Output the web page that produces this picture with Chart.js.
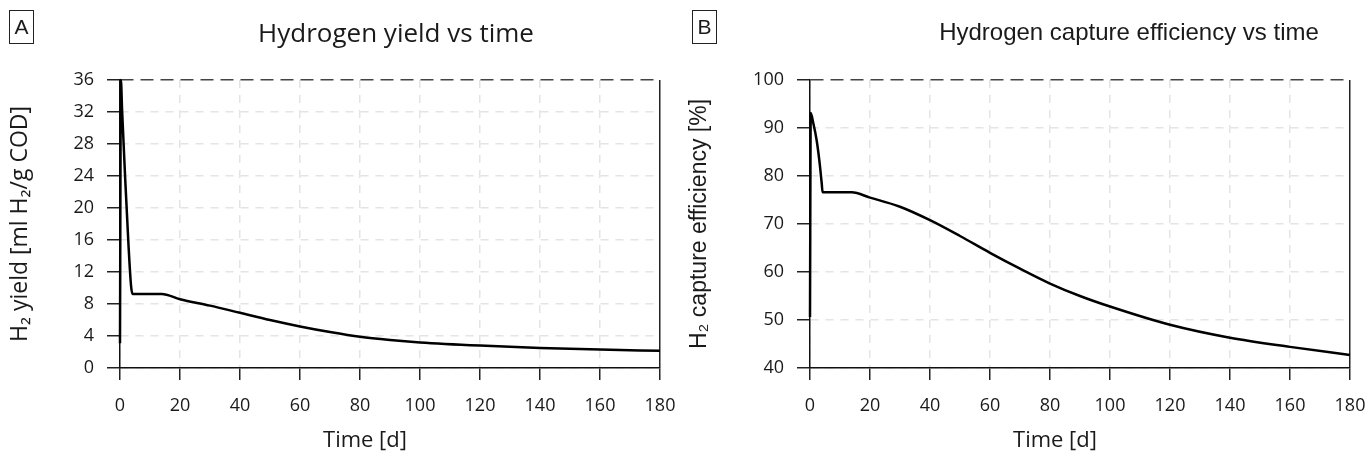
<!DOCTYPE html>
<html>
<head>
<meta charset="utf-8">
<script src="https://cdn.jsdelivr.net/npm/chart.js@4.4.1/dist/chart.umd.min.js"></script>
<style>
    body { margin: 0; background: #fff; }
    #wrap { position: relative; width: 1371px; height: 468px; overflow: hidden; font-family: "Open Sans", sans-serif; color: #1a1a1a; }
    .pane { position: absolute; top: 0; height: 468px; }
    .tag { position: absolute; top: 10px; width: 23px; height: 32px; border: 1px solid #222; font-family: "Liberation Sans", Arial, sans-serif; font-size: 21px; line-height: 32px; text-align: center; }
    .ttl { position: absolute; top: 15px; line-height: 34px; white-space: nowrap; transform: translateX(-50%); }
    .xt { position: absolute; top: 423px; font-size: 22px; line-height: 30px; white-space: nowrap; transform: translateX(-50%); }
</style>
</head>
<body>
<div id="wrap">
    <div class="pane" style="left:0;width:685px"><canvas id="yieldChart" width="685" height="468"></canvas></div>
    <div class="pane" style="left:685px;width:686px"><canvas id="captureChart" width="686" height="468"></canvas></div>
    <div class="tag" style="left:9px">A</div>
    <div class="tag" style="left:692px">B</div>
    <div class="ttl" style="left:396px;font-size:26px">Hydrogen yield vs time</div>
    <div class="ttl" style="left:1129px;font-size:24px;font-family:'Liberation Sans',Arial,sans-serif">Hydrogen capture efficiency vs time</div>
    <div class="xt" style="left:365px">Time [d]</div>
    <div class="xt" style="left:1055px">Time [d]</div>
</div>
<script>
// time axis ticks (days)
const timeTicks = [0, 20, 40, 60, 80, 100, 120, 140, 160, 180];

// H2 yield [ml H2/g COD]
const yieldDays = [0, 0.3, 0.7, 1.7, 2.8, 3.7, 4.2, 13.9, 20, 30, 40, 50, 60, 70, 80, 90, 100, 120, 140, 160, 180];
const yieldVals = [3.1, 36, 32.2, 23.9, 15.6, 10.2, 9.25, 9.25, 8.6, 7.8, 6.9, 6.0, 5.2, 4.5, 3.9, 3.5, 3.2, 2.8, 2.5, 2.3, 2.15];
const yieldTicks = [0, 4, 8, 12, 16, 20, 24, 28, 32, 36];

// H2 capture efficiency [%]
const captureDays = [0, 0.25, 1.1, 2.2, 3.1, 3.9, 4.2, 13.9, 20, 30, 40, 50, 60, 70, 80, 90, 100, 120, 140, 160, 180];
const captureVals = [50.6, 93.1, 91.0, 87.5, 83.3, 78.5, 76.6, 76.6, 75.5, 73.6, 70.8, 67.5, 64.0, 60.7, 57.6, 55.0, 52.8, 49.0, 46.3, 44.4, 42.7];
const captureTicks = [40, 50, 60, 70, 80, 90, 100];

const tickFont = { family: 'Open Sans', size: 18 };

function makeChart(id, days, vals, yTicks, yTitle, titleFont, titlePad, axisW, padRight) {
    const yMin = yTicks[0], yMax = yTicks[yTicks.length - 1];
    const xMax = timeTicks[timeTicks.length - 1];
    return new Chart(document.getElementById(id), {
        type: 'line',
        data: {
            datasets: [{
                data: days.map((d, i) => ({ x: d, y: vals[i] })),
                borderColor: '#000',
                borderWidth: 2.5,
                pointRadius: 0,
                cubicInterpolationMode: 'monotone',
                clip: 3
            }]
        },
        options: {
            responsive: false,
            animation: false,
            devicePixelRatio: 1,
            layout: { padding: { top: 80, right: padRight, left: 0, bottom: 0 } },
            plugins: { legend: { display: false }, tooltip: { enabled: false } },
            scales: {
                x: {
                    type: 'linear',
                    min: 0, max: xMax,
                    afterBuildTicks: s => { s.ticks = timeTicks.map(v => ({ value: v })); },
                    // fixed axis height, no extra label overflow padding
                    afterFit: s => { s.height = 100; s.paddingLeft = 0; s.paddingRight = 0; },
                    ticks: { font: tickFont, color: '#1a1a1a', padding: 15, maxRotation: 0 },
                    grid: {
                        color: c => (c.tick && c.tick.value === xMax) ? '#222' : '#e4e4e4',
                        lineWidth: 1.5,
                        tickLength: 12, tickColor: '#222', tickWidth: 1.5, tickBorderDash: []
                    },
                    border: { color: '#111', width: 1.5, dash: c => (c.tick && c.tick.value === xMax) ? [] : [8, 7] }
                },
                y: {
                    min: yMin, max: yMax,
                    afterBuildTicks: s => { s.ticks = yTicks.map(v => ({ value: v })); },
                    afterFit: s => { s.width = axisW; },
                    ticks: { font: tickFont, color: '#1a1a1a', padding: 13 },
                    grid: {
                        color: c => (c.tick && c.tick.value === yMax) ? '#444' : '#e4e4e4',
                        lineWidth: 1.5,
                        tickLength: 13, tickColor: '#222', tickWidth: 1.5, tickBorderDash: []
                    },
                    border: { color: '#111', width: 1.5, dash: c => (c.tick && c.tick.value === yMax) ? [13, 7] : [8, 7] },
                    title: { display: true, text: yTitle, font: titleFont, color: '#1a1a1a', padding: { top: titlePad, bottom: 0 } }
                }
            }
        }
    });
}

makeChart('yieldChart', yieldDays, yieldVals, yieldTicks, 'H₂ yield [ml H₂/g COD]', { family: 'Open Sans', size: 23 }, 7, 120, 25);
makeChart('captureChart', captureDays, captureVals, captureTicks, 'H₂ capture efficiency [%]', { family: 'Liberation Sans', size: 23 }, 1, 125, 21);
</script>
</body>
</html>
